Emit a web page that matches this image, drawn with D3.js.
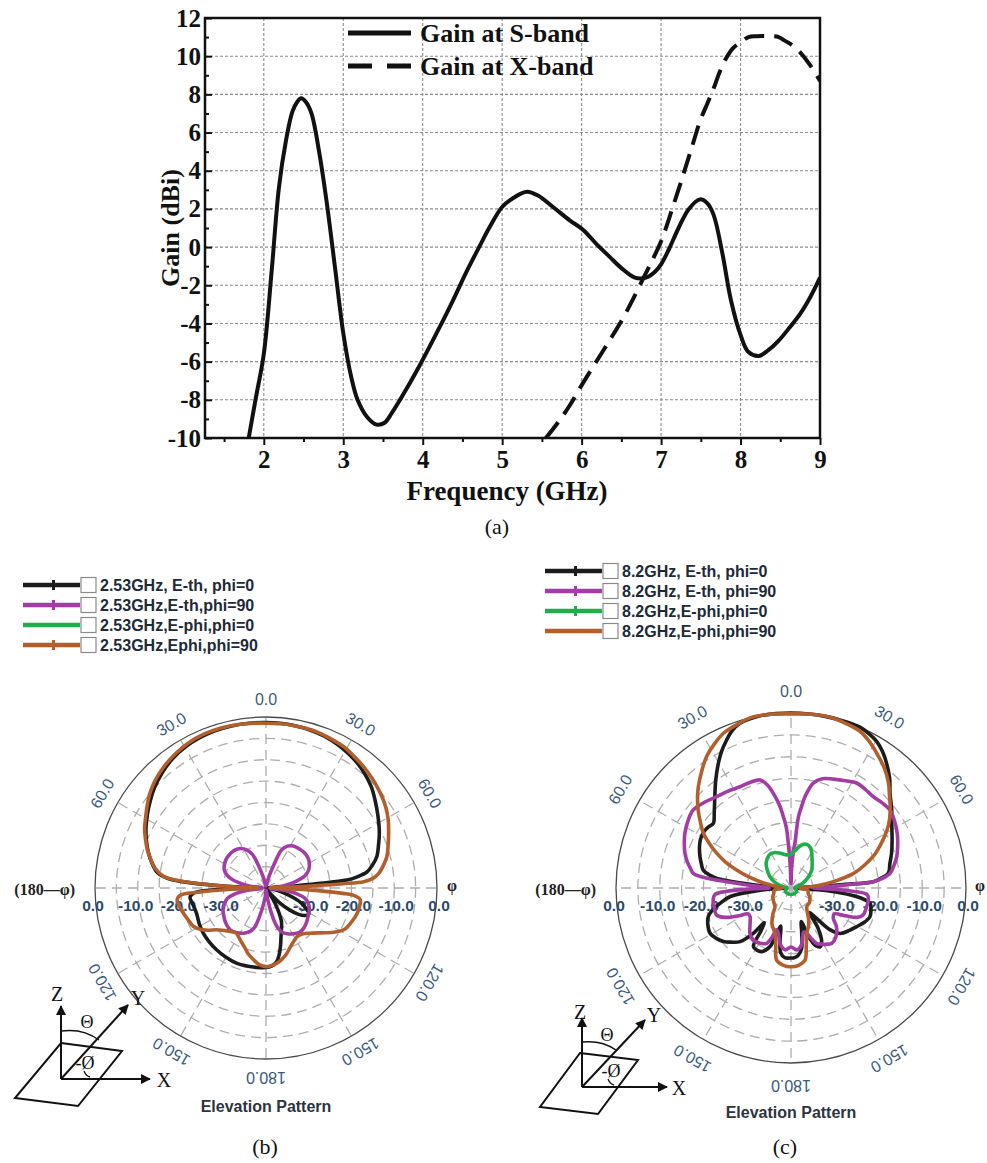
<!DOCTYPE html>
<html><head><meta charset="utf-8">
<script src="https://cdn.jsdelivr.net/npm/d3@7"></script>
<style>body{margin:0;background:#fff}svg{display:block}</style>
</head><body>
<svg id="c" width="987" height="1163"></svg>
<script>
// ---------- (a) gain vs frequency ----------
const freqS = [1.81,1.9,2.0,2.1,2.19,2.28,2.36,2.42,2.47,2.53,2.6,2.7,2.79,2.9,3.0,3.1,3.18,3.3,3.42,3.52,3.61,3.8,4.0,4.2,4.38,4.55,4.71,4.85,5.0,5.15,5.31,5.45,5.64,5.85,6.02,6.2,6.35,6.5,6.67,6.81,6.92,7.0,7.1,7.22,7.35,7.49,7.58,7.66,7.77,7.88,8.0,8.1,8.23,8.35,8.48,8.62,8.75,8.88,9.0];
const gainS = [-10,-7.9,-5.6,-1.2,3.1,5.6,7.1,7.6,7.8,7.6,7.0,4.9,2.4,-1.2,-4.5,-6.8,-8.0,-8.9,-9.3,-9.2,-8.7,-7.4,-5.9,-4.3,-2.8,-1.3,0.0,1.1,2.1,2.6,2.9,2.7,2.1,1.4,0.9,0.1,-0.5,-1.1,-1.6,-1.6,-1.3,-0.9,-0.1,1.0,2.0,2.5,2.3,1.7,-0.3,-2.8,-4.6,-5.5,-5.7,-5.4,-4.9,-4.2,-3.5,-2.6,-1.6];
const freqX = [5.55,5.7,5.85,6.02,6.2,6.35,6.51,6.65,6.78,6.9,7.0,7.14,7.28,7.4,7.49,7.58,7.66,7.74,7.82,7.9,7.99,8.1,8.2,8.35,8.48,8.56,8.64,8.75,8.88,9.0];
const gainX = [-10,-9.2,-8.3,-7.1,-5.9,-4.9,-3.8,-2.7,-1.6,-0.6,0.3,2.0,3.8,5.4,6.6,7.5,8.3,9.2,9.9,10.4,10.7,11.0,11.05,11.05,11.0,10.8,10.6,10.2,9.5,8.7];
const xTicks = [2,3,4,5,6,7,8,9];
const xMinor = [1.5,2.5,3.5,4.5,5.5,6.5,7.5,8.5];
const yTicks = [-10,-8,-6,-4,-2,0,2,4,6,8,10,12];
const yMinor = [-9,-7,-5,-3,-1,1,3,5,7,9,11];
const legendA = ["Gain at S-band","Gain at X-band"];

// ---------- (b) 2.53 GHz patterns [theta deg, dB] ----------
const bLabels = ["2.53GHz, E-th, phi=0","2.53GHz,E-th,phi=90","2.53GHz,E-phi,phi=0","2.53GHz,Ephi,phi=90"];
const bEthPhi0 = [[-180,-21.4],[-173,-21.3],[-166,-21.2],[-159,-21.1],[-150,-21.3],[-141,-21.5],[-133,-21.7],[-126,-21.9],[-118,-22.3],[-110,-22.7],[-103,-22.5],[-97,-22.1],[-94,-23],[-92,-28],[-91,-35],[-89.5,-39],[-88,-34],[-87,-28],[-86,-22],[-84.5,-17],[-82,-14.4],[-78,-12.8],[-73,-11.2],[-68,-9.8],[-63,-8.5],[-58,-7.3],[-53,-6.1],[-48,-4.9],[-42,-3.7],[-36,-2.7],[-30,-2],[-24,-1.6],[-18,-1.35],[-12,-1.25],[-6,-1.25],[0,-1.3],[9,-1.4],[18,-1.75],[24,-2.2],[29,-2.8],[35,-3.6],[40,-4.5],[46,-5.8],[51,-7.2],[57,-8.8],[64,-10.5],[69,-11.8],[74,-13],[78,-14.6],[81,-16.1],[83,-18.5],[84.4,-21],[85.2,-28.8],[86.5,-34],[88,-38],[90,-40],[95,-39.5],[101,-38],[105,-36],[109,-33.5],[113,-31],[117,-29.5],[121,-28.3],[125,-28.8],[129,-30.2],[133,-32.5],[137,-35],[141,-38],[145,-39],[148,-37],[151,-34.5],[155,-31.5],[160,-29.5],[163,-28],[166,-26],[169,-24],[172,-22.5],[176,-21.7]];
const bEthPhi90 = [[-180,-39.5],[-175,-38],[-171,-36],[-167,-33],[-164,-30.5],[-160,-29.2],[-155,-28.4],[-149,-27.7],[-143,-27.2],[-137,-27.2],[-130,-27.6],[-123,-28.2],[-116,-28.8],[-110,-29.7],[-105,-30.7],[-101,-32.5],[-97,-36],[-93,-39],[-87,-39],[-83,-36],[-79,-33.5],[-75,-31.5],[-71,-30.2],[-66,-29.3],[-60,-28.8],[-54,-28.5],[-47,-28.4],[-40,-28.5],[-33,-29],[-27,-30],[-22,-31.5],[-19,-34],[-15,-37],[-10,-39],[-5,-39.5],[0,-39.5],[5,-39.5],[10,-39],[15,-37],[19,-34],[22,-30.5],[27,-29],[33,-28.3],[40,-28],[47,-27.8],[54,-27.9],[60,-28.3],[66,-29],[71,-30],[75,-31.5],[79,-33.5],[83,-36],[87,-39],[93,-39],[97,-36],[101,-32.5],[105,-30.5],[110,-29.5],[116,-28.7],[123,-28.2],[130,-27.6],[137,-27.1],[143,-27],[149,-27.5],[155,-28.2],[160,-29],[164,-30.5],[167,-33],[171,-37],[175,-39.5]];
const bEphiPhi0 = [];
const bEphiPhi90 = [[-180,-21.6],[-175,-22],[-170,-23],[-165,-24],[-160,-25.3],[-155,-26.2],[-150,-27],[-146,-27.4],[-142,-27],[-138,-26.5],[-134,-25.8],[-130,-24.8],[-126,-23.2],[-122,-21.8],[-118,-20.8],[-113,-20.4],[-108,-19.9],[-103,-19.4],[-98,-19],[-95,-19.8],[-93.5,-24],[-92,-32],[-91,-38],[-89,-38],[-88,-33],[-87,-28],[-86.2,-24],[-85.5,-20.5],[-83.5,-15.9],[-80,-13.7],[-76,-12.2],[-72,-10.8],[-68,-9.6],[-64,-8.4],[-59,-7.2],[-55,-6.1],[-51,-5],[-46,-3.9],[-40,-2.9],[-34,-2.1],[-28,-1.5],[-22,-1.2],[-16,-1.1],[-9,-1.2],[-4,-1.35],[0,-1.45],[5,-1.45],[9,-1.45],[14,-1.5],[18,-1.6],[23,-1.9],[29,-2.3],[34,-3],[39,-3.6],[44,-4.3],[48,-4.9],[52,-5.5],[56,-6.2],[61,-7.3],[66,-8.6],[71,-9.8],[75.5,-10.8],[79,-12],[82.6,-13.4],[85,-15],[86.3,-17.1],[86.8,-22],[87.3,-28],[88,-34],[89,-39],[91,-38],[92.5,-30],[94,-22],[94.8,-19.4],[97,-17.8],[101,-17.7],[106,-17.9],[112,-18.5],[118,-19.3],[123,-21],[127,-22.6],[131,-24],[136,-25.3],[141,-26.2],[147,-26.5],[152,-26],[157.5,-25.1],[163,-23.8],[168,-22.8],[172,-22.2],[176,-21.8]];

// ---------- (c) 8.2 GHz patterns [theta deg, dB] ----------
const cLabels = ["8.2GHz, E-th, phi=0","8.2GHz, E-th, phi=90","8.2GHz,E-phi,phi=0","8.2GHz,E-phi,phi=90"];
const cEthPhi0 = [[-180,-24],[-175,-24],[-171,-25],[-168,-28],[-165,-31],[-162.5,-29.1],[-160.3,-25.8],[-155.3,-24],[-151,-23.8],[-147.3,-24.1],[-145,-28],[-142.5,-30],[-140.3,-26.5],[-136.5,-23.1],[-132,-21.5],[-128.4,-20.3],[-124,-19.4],[-119.2,-18.8],[-114,-19.2],[-109.1,-20],[-106,-21.2],[-102.2,-23.4],[-98,-26],[-94,-33],[-90,-39],[-88,-39],[-86,-34],[-84.4,-29],[-82.6,-22.9],[-81,-21.2],[-78.4,-19.5],[-75,-18.8],[-71,-18],[-66,-17.1],[-61.7,-16.5],[-57,-16.3],[-53,-16.6],[-50.2,-16.9],[-45,-15.2],[-39.8,-12.8],[-35,-10],[-30.2,-7],[-27,-5],[-23.5,-3.1],[-20.5,-1.6],[-17.2,-0.6],[-10.2,0],[-5,0],[0,0],[6,0],[11.7,0],[17,0],[23.2,0],[27,-0.5],[30.3,-1.2],[34,-2.5],[37.5,-4.1],[42,-6.3],[46.3,-8.7],[52,-10.8],[58.6,-13],[65,-14.5],[71,-15.7],[76,-16.7],[81.4,-17.5],[84,-19.5],[85.6,-21.1],[86.2,-28],[86.8,-34],[88,-39],[90,-39],[94,-32],[98,-24],[101,-21.6],[106,-21],[110,-20.8],[115,-21.5],[120.5,-22.6],[126,-23.5],[132.8,-24.7],[137,-27],[140,-31],[143,-33],[146,-29],[150,-26],[153.7,-25],[157,-25.8],[160,-28],[163,-32],[166,-30],[170,-26],[174,-24.5],[178,-24]];
const cEthPhi90 = [[-180,-26.5],[-174.5,-25.8],[-169,-27],[-165,-29],[-161.2,-29.9],[-159,-28],[-156.3,-26.2],[-150,-25.5],[-144.1,-25.3],[-138,-26],[-133.3,-27.1],[-129,-28],[-124.9,-28.6],[-121,-28.5],[-118,-26.5],[-114,-23.5],[-110,-21.9],[-104,-21.9],[-98.8,-22],[-95,-22.5],[-93,-25],[-91,-32],[-90,-35],[-88,-34],[-86,-30],[-84.4,-25.2],[-83.5,-21],[-81.5,-17.4],[-79,-16.6],[-76,-15.6],[-71.9,-14.5],[-67,-13.5],[-62.7,-12.7],[-57,-11.9],[-51.4,-11.4],[-45,-12.2],[-39.1,-13.1],[-33,-13.6],[-26.7,-14.1],[-21,-14.1],[-16,-14.3],[-13,-15.8],[-10.6,-18],[-8,-20.8],[-6.1,-23.6],[-4.5,-26],[-3.4,-29.8],[-2,-35],[0,-39],[2,-35],[4,-31],[5,-29.8],[5.5,-26],[6,-23.6],[7.5,-21],[8.7,-18.9],[12,-15.5],[16,-14],[21.3,-13.3],[27,-12.5],[32,-11.7],[37,-11.8],[42,-11.9],[47,-11.5],[51.8,-11.2],[57,-11.8],[62.8,-12.7],[68,-13.7],[73.5,-14.8],[78,-16],[81.6,-17.1],[84,-19],[85.6,-21.1],[86.5,-26],[87.5,-30],[88.5,-33],[90,-35],[91,-33],[93,-26],[95,-22.5],[98.8,-22.1],[104,-22.2],[110.5,-22.4],[114,-23.5],[117,-26],[121,-28.5],[125.6,-28.1],[130,-26.5],[134.8,-25.3],[140,-24.5],[143.7,-24.3],[148,-24.8],[152,-25.5],[155.1,-26],[158,-27.5],[160.9,-29],[164,-29.5],[168,-27.5],[171,-26.3],[174.8,-25.8]];
const cEphiPhi0 = [[-180,-38.5],[-150,-38.5],[-120,-38.5],[-90,-39],[-78,-37.5],[-70,-36],[-61.6,-34.5],[-53,-33.2],[-45.4,-32],[-38,-31.3],[-31.7,-30.9],[-24.4,-31.1],[-18,-31.6],[-12,-32.1],[-6,-32.4],[0,-32.3],[5,-31.6],[10,-30.6],[15,-29.7],[20,-29.4],[26,-29.8],[31,-30.8],[37,-32],[43,-32.9],[49,-33.7],[56,-35],[63,-36.3],[70,-37.5],[80,-38.8],[90,-39],[120,-38.5],[150,-38.5]];
const cEphiPhi90 = [[-180,-22],[-174,-22.3],[-168.7,-23.2],[-165,-26.5],[-160.6,-29],[-153,-30.5],[-146,-32.5],[-139.4,-34.4],[-132,-34.8],[-124,-35.1],[-115,-35.4],[-107,-35.9],[-100,-36],[-95,-36.5],[-90,-38],[-86,-37.5],[-82,-35.5],[-78.5,-32.8],[-75,-29.8],[-71.7,-26.9],[-68.5,-24],[-65,-21.3],[-61.5,-18.8],[-58,-16.4],[-54,-14.4],[-50,-12.3],[-46,-10.3],[-42.4,-8.6],[-37,-6.2],[-32.7,-4.3],[-28,-2.7],[-23.6,-1.4],[-18,-0.6],[-13.5,0],[-7,0],[0,-0.2],[7,0],[14,0],[19,-0.4],[24,-0.9],[28,-2],[32.5,-3.5],[38,-5.3],[43,-7.3],[47,-9.2],[52,-11.2],[57,-13.4],[61,-15.5],[65,-17.7],[69,-19.9],[73,-22.6],[77,-25.4],[81.5,-30.2],[85,-34],[88,-37],[90,-38],[95,-36.5],[100,-36],[107,-35.9],[115,-35.3],[122,-34.9],[130,-34.6],[140,-34.4],[150,-32],[155,-30.5],[160.9,-29],[165,-26.5],[169,-23.2],[174,-22.3]];

const ringDb = [-35,-30,-25,-20,-15,-10,-5];
const ringLabelDb = [0,-10,-20,-30];
const angleLabels = [0,30,60,120,150,180,-30,-60,-120,-150];
const traceColors = ["#1c1c1c","#a23da3","#1fae4b","#b15f2c"];

// ------------------------------------------------------------
const svg = d3.select("#c");
svg.append("rect").attr("width",987).attr("height",1163).attr("fill","#fff");
const SERIF = "'Liberation Serif','Times New Roman',serif";
const SANS = "'Liberation Sans',Arial,sans-serif";
const hyph = f => d => f(d).replace("\u2212","-");

// ---------- (a) ----------
const X0 = 1.26;
const xA = d3.scaleLinear().domain([X0,9]).range([205,820]);
const yA = d3.scaleLinear().domain([-10,12]).range([438,18]);
const gA = svg.append("g");
gA.selectAll(null).data(xTicks.filter(v=>v<9)).join("line")
  .attr("x1",d=>xA(d)).attr("x2",d=>xA(d)).attr("y1",yA(12)).attr("y2",yA(-10))
  .attr("stroke","#8c8c8c").attr("stroke-width",1.1).attr("stroke-dasharray","3,2");
gA.selectAll(null).data(yTicks.filter(v=>v>-10&&v<12)).join("line")
  .attr("y1",d=>yA(d)).attr("y2",d=>yA(d)).attr("x1",xA(X0)).attr("x2",xA(9))
  .attr("stroke","#8c8c8c").attr("stroke-width",1.1).attr("stroke-dasharray","3,2");

function styleAxis(g){
  g.select(".domain").remove();
  g.selectAll("line").attr("stroke","#111").attr("stroke-width",2);
  g.selectAll("text").attr("font-family",SERIF).attr("font-weight","bold").attr("font-size",25).attr("fill","#111");
}
gA.append("g").attr("transform",`translate(0,${yA(-10)})`)
  .call(d3.axisBottom(xA).tickValues(xTicks).tickSize(7).tickPadding(5).tickFormat(hyph(d3.format("d")))).call(styleAxis);
gA.append("g").attr("transform",`translate(0,${yA(-10)})`)
  .call(d3.axisBottom(xA).tickValues(xMinor).tickSize(4).tickFormat("")).call(styleAxis);
gA.append("g").attr("transform",`translate(${xA(X0)},0)`)
  .call(d3.axisLeft(yA).tickValues(yTicks).tickSize(-7).tickPadding(4).tickFormat(hyph(d3.format("d")))).call(styleAxis);
gA.append("g").attr("transform",`translate(${xA(X0)},0)`)
  .call(d3.axisLeft(yA).tickValues(yMinor).tickSize(-4).tickFormat("")).call(styleAxis);
gA.append("rect").attr("x",xA(X0)).attr("y",yA(12)).attr("width",xA(9)-xA(X0)).attr("height",yA(-10)-yA(12))
  .attr("fill","none").attr("stroke","#111").attr("stroke-width",2.5);

svg.append("defs").append("clipPath").attr("id","clipA").append("rect")
  .attr("x",xA(X0)).attr("y",yA(12)).attr("width",xA(9)-xA(X0)).attr("height",yA(-10)-yA(12));
const lineA = d3.line().x(d=>xA(d[0])).y(d=>yA(d[1])).curve(d3.curveCatmullRom.alpha(0.5));
gA.append("path").attr("clip-path","url(#clipA)").attr("d",lineA(d3.zip(freqS,gainS)))
  .attr("fill","none").attr("stroke","#111").attr("stroke-width",4).attr("stroke-linejoin","round");
gA.append("path").attr("clip-path","url(#clipA)").attr("d",lineA(d3.zip(freqX,gainX)))
  .attr("fill","none").attr("stroke","#111").attr("stroke-width",4).attr("stroke-dasharray","20,10");

// legend
[0,1].forEach(i=>{
  const yy = 33 + i*33;
  gA.append("line").attr("x1",348).attr("x2",411).attr("y1",yy).attr("y2",yy)
    .attr("stroke","#111").attr("stroke-width",5).attr("stroke-dasharray", i? "24,15":null);
  gA.append("text").attr("x",420).attr("y",yy+9).text(legendA[i])
    .attr("font-family",SERIF).attr("font-weight","bold").attr("font-size",26).attr("fill","#111");
});
gA.append("text").attr("x",507).attr("y",500).attr("text-anchor","middle").text("Frequency (GHz)")
  .attr("font-family",SERIF).attr("font-weight","bold").attr("font-size",27).attr("fill","#111");
gA.append("text").attr("transform","translate(179,228) rotate(-90)").attr("text-anchor","middle").text("Gain (dBi)")
  .attr("font-family",SERIF).attr("font-weight","bold").attr("font-size",26).attr("fill","#111");
svg.append("text").attr("x",497).attr("y",534).attr("text-anchor","middle").text("(a)")
  .attr("font-family",SERIF).attr("font-size",22).attr("fill","#111");

// ---------- polar ----------
function polar(cfg){
  const {cx, cy, R, labR, traces, legend, caption, capX} = cfg;
  const g = svg.append("g").attr("transform",`translate(${cx},${cy})`);
  const r = d3.scaleLinear().domain([-40,0]).range([0,R]).clamp(true);
  g.selectAll(null).data(ringDb).join("circle").attr("r",d=>r(d))
    .attr("fill","none").attr("stroke","#adadad").attr("stroke-width",1.3).attr("stroke-dasharray","10,6");
  g.selectAll(null).data(d3.range(0,360,30)).join("line")
    .attr("x1",0).attr("y1",0)
    .attr("x2",d=>R*Math.sin(d*Math.PI/180)).attr("y2",d=>-R*Math.cos(d*Math.PI/180))
    .attr("stroke","#adadad").attr("stroke-width",1.3).attr("stroke-dasharray","10,6");
  g.append("circle").attr("r",R).attr("fill","none").attr("stroke","#4a4a4a").attr("stroke-width",1.3);
  g.selectAll(null).data(angleLabels).join("text")
    .attr("transform",d=>`translate(${labR*Math.sin(d*Math.PI/180)},${-labR*Math.cos(d*Math.PI/180)}) rotate(${d})`)
    .attr("text-anchor","middle").attr("dominant-baseline","central")
    .attr("font-family",SANS).attr("font-size",16).attr("fill","#3c5a7c")
    .text(d=>Math.abs(d).toFixed(1));
  [-1,1].forEach(s=>{
    g.selectAll(null).data(ringLabelDb).join("text")
      .attr("x",d=>s*(r(d)+2)).attr("y",17).attr("text-anchor","middle").attr("dominant-baseline","central")
      .attr("font-family",SANS).attr("font-weight","bold").attr("font-size",15.5).attr("fill","#2b4a6c")
      .text(d=>d.toFixed(1));
  });
  g.append("text").attr("x",-R-20).attr("y",1).attr("text-anchor","end").attr("dominant-baseline","central")
    .attr("font-family",SERIF).attr("font-weight","bold").attr("font-size",16).attr("fill","#222").text("(180\u2014\u03c6)");
  g.append("text").attr("x",R+cfg.phiOff).attr("y",-3).attr("text-anchor","start").attr("dominant-baseline","central")
    .attr("font-family",SERIF).attr("font-weight","bold").attr("font-size",16).attr("fill","#222").text("\u03c6");
  const line = d3.lineRadial().angle(d=>d[0]*Math.PI/180).radius(d=>r(d[1]))
    .curve(d3.curveCatmullRomClosed.alpha(0.5));
  traces.forEach((t,i)=>{
    if(!t.length) return;
    g.append("path").attr("d",line(t)).attr("fill","none").attr("stroke",traceColors[i])
      .attr("stroke-width",3.6).attr("stroke-linejoin","round");
  });
  svg.append("text").attr("x",cx).attr("y",cfg.titleY).attr("text-anchor","middle")
    .attr("font-family",SANS).attr("font-weight","bold").attr("font-size",16).attr("fill","#2c3440").text("Elevation Pattern");
  const L = legend;
  L.labels.forEach((lab,i)=>{
    const yy = L.y0 + i*L.dy;
    svg.append("line").attr("x1",L.x0).attr("x2",L.x0+57).attr("y1",yy).attr("y2",yy)
      .attr("stroke",traceColors[i]).attr("stroke-width",4.5);
    if(L.marks[i]) svg.append("rect").attr("x",L.x0+29).attr("y",yy-5).attr("width",3).attr("height",10).attr("fill",traceColors[i]);
    svg.append("rect").attr("x",L.x0+58).attr("y",yy-7.5).attr("width",15).attr("height",15)
      .attr("fill","#fff").attr("stroke","#8a8a8a").attr("stroke-width",1.2);
    svg.append("text").attr("x",L.x0+77).attr("y",yy).attr("dominant-baseline","central")
      .attr("font-family",SANS).attr("font-weight","bold").attr("font-size",16).attr("fill","#1e2a36").text(lab);
  });
  svg.append("text").attr("x",capX).attr("y",1154).attr("text-anchor","middle")
    .attr("font-family",SERIF).attr("font-size",22).attr("fill","#111").text(caption);
}

polar({cx:266, cy:888, R:171, labR:189, phiOff:10,
  traces:[bEthPhi0,bEthPhi90,bEphiPhi0,bEphiPhi90], titleY:1112,
  legend:{x0:23, y0:585, dy:20, labels:bLabels, marks:[1,1,0,1]}, caption:"(b)", capX:265});
polar({cx:791, cy:888, R:175, labR:197, phiOff:9,
  traces:[cEthPhi0,cEthPhi90,cEphiPhi0,cEphiPhi90], titleY:1118,
  legend:{x0:545, y0:571, dy:20, labels:cLabels, marks:[1,1,1,0]}, caption:"(c)", capX:785});

// ---------- coordinate icons ----------
const defs = svg.select("defs");
defs.append("marker").attr("id","arr").attr("viewBox","0 0 10 10").attr("refX",9).attr("refY",5)
  .attr("markerWidth",13).attr("markerHeight",10).attr("markerUnits","userSpaceOnUse").attr("orient","auto")
  .append("path").attr("d","M0,0 L10,5 L0,10 z").attr("fill","#111");
function icon(o){
  const g = svg.append("g").attr("stroke","#111").attr("fill","none").attr("stroke-width",2);
  g.append("path").attr("d",`M${o.plane.map(p=>p.join(",")).join(" L")} Z`);
  [o.z,o.x,o.y].forEach(p=>g.append("line").attr("x1",o.o[0]).attr("y1",o.o[1]).attr("x2",p[0]).attr("y2",p[1]).attr("marker-end","url(#arr)"));
  g.append("path").attr("d",o.arc).attr("stroke-width",1.5);
  g.append("path").attr("d",o.arc2).attr("stroke-width",1.3);
  const t = svg.append("g").attr("font-family",SERIF).attr("font-size",20).attr("fill","#111").attr("text-anchor","middle");
  o.labels.forEach(l=>t.append("text").attr("x",l[1]).attr("y",l[2]).attr("font-size",l[3]||20).text(l[0]));
}
icon({o:[61,1079], z:[61,1006], x:[150,1079], y:[128,1005],
  plane:[[61,1043],[122,1051],[78,1106],[15,1098]],
  arc:"M61,1031 Q83,1028 99,1040", arc2:"M84,1071 Q86,1076 90,1077",
  labels:[["Z",57,1001],["Y",138,1005],["X",164,1087],["\u0398",87,1028,18],["-\u00d8",85,1069,18]]});
icon({o:[582,1087], z:[582,1018], x:[667,1087], y:[645,1020],
  plane:[[580,1053],[638,1060],[598,1114],[540,1107]],
  arc:"M582,1042 Q602,1040 616,1050", arc2:"M608,1079 Q610,1084 614,1085",
  labels:[["Z",580,1019],["Y",654,1022],["X",679,1095],["\u0398",607,1041,18],["-\u00d8",611,1077,18]]});
</script>
</body></html>
